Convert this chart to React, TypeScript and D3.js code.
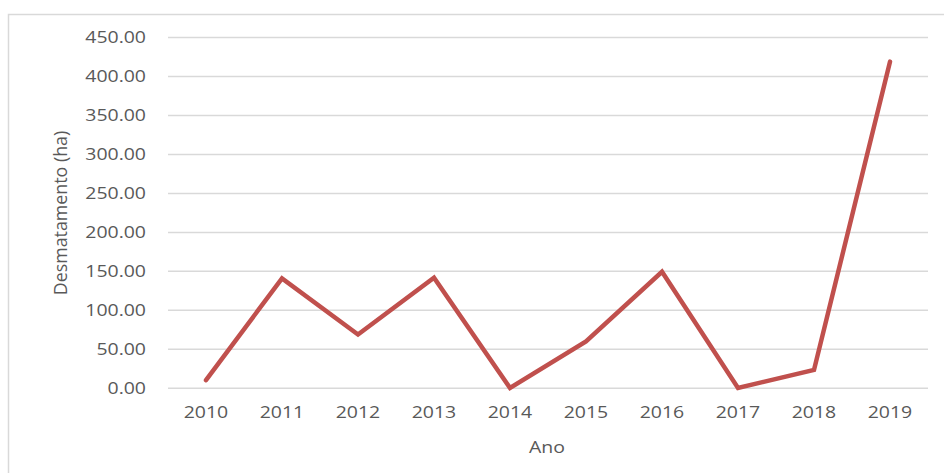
import { line, scaleLinear, scalePoint } from 'd3'

const years = ['2010', '2011', '2012', '2013', '2014', '2015', '2016', '2017', '2018', '2019']
const deforestation = [10.5, 141, 69, 142, 0.5, 60, 149.5, 0.5, 23.5, 419]
const yTickValues = [0, 50, 100, 150, 200, 250, 300, 350, 400, 450]

const width = 944
const height = 473

const plot = {
  left: 168,
  right: 928,
  top: 37.5,
  bottom: 388.3,
}

const fontFamily = '"Open Sans", "Noto Sans", sans-serif'
const textColor = '#595959'

function App() {
  const xScale = scalePoint<string>()
    .domain(years)
    .range([plot.left, plot.right])
    .padding(0.5)

  const yScale = scaleLinear().domain([0, 450]).range([plot.bottom, plot.top])

  const points = years.map((year, i) => [xScale(year) ?? 0, yScale(deforestation[i])] as [number, number])
  const path = line()(points) ?? ''

  return (
    <svg
      width={width}
      height={height}
      viewBox={`0 0 ${width} ${height}`}
      style={{ position: 'fixed', left: 0, top: 0, background: '#ffffff' }}
    >
      <rect x={8.5} y={14.5} width={980} height={500} fill="#ffffff" stroke="#d9d9d9" strokeWidth={1.5} />

      {yTickValues.map((tick) => {
        const y = yScale(tick)
        return (
          <line key={tick} x1={plot.left} x2={plot.right} y1={y} y2={y} stroke="#d9d9d9" strokeWidth={1.5} />
        )
      })}

      {yTickValues.map((tick) => (
        <text
          key={`${tick}-label`}
          transform={`translate(146, ${yScale(tick)}) scale(1.18, 1)`}
          dy="0.36em"
          textAnchor="end"
          fontFamily={fontFamily}
          fontSize={16.5}
          fill={textColor}
        >
          {tick.toFixed(2)}
        </text>
      ))}

      {years.map((year) => (
        <text
          key={`${year}-label`}
          transform={`translate(${xScale(year) ?? 0}, 418) scale(1.18, 1)`}
          textAnchor="middle"
          fontFamily={fontFamily}
          fontSize={16.5}
          fill={textColor}
        >
          {year}
        </text>
      ))}

      <path d={path} fill="none" stroke="#c0504d" strokeWidth={4.5} strokeLinejoin="miter" strokeLinecap="round" />

      <text
        transform="translate(547, 453) scale(1.18, 1)"
        textAnchor="middle"
        fontFamily={fontFamily}
        fontSize={16.5}
        fill={textColor}
      >
        Ano
      </text>

      <text
        transform="translate(67, 213) rotate(-90) scale(1.08, 1.15)"
        textAnchor="middle"
        fontFamily={fontFamily}
        fontSize={16.5}
        fill={textColor}
      >
        Desmatamento (ha)
      </text>
    </svg>
  )
}

export default App
